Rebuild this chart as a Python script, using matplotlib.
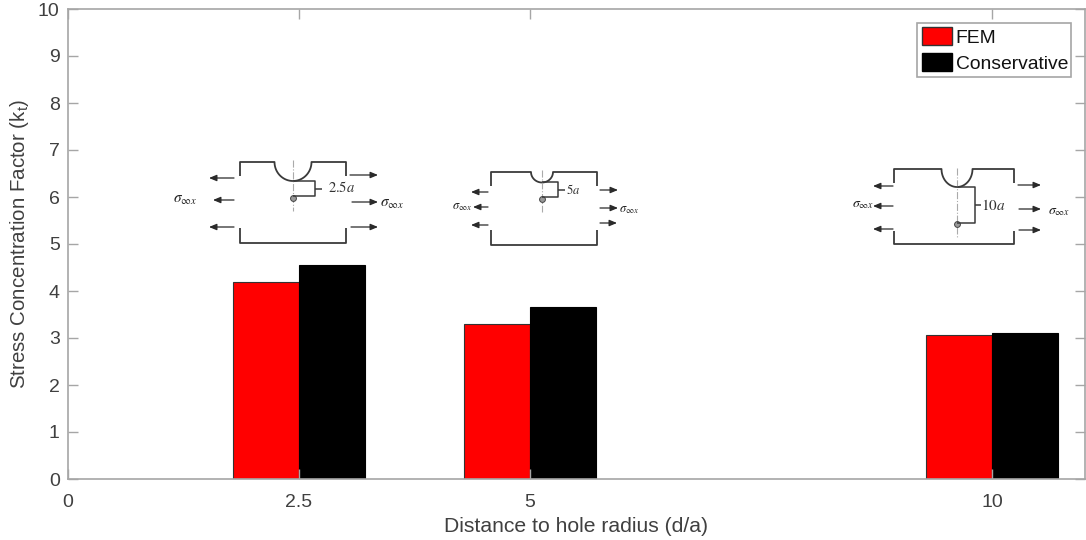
import numpy as np
import matplotlib
matplotlib.use("Agg")
import matplotlib.pyplot as plt
from matplotlib.patches import Patch, FancyArrowPatch, Rectangle
from matplotlib.transforms import Affine2D

plt.rcParams['font.family'] = ['Liberation Sans', 'DejaVu Sans']
plt.rcParams['mathtext.fontset'] = 'custom'
plt.rcParams['mathtext.rm'] = 'Liberation Sans'
plt.rcParams['mathtext.it'] = 'Liberation Sans:italic'

positions = [2.5, 5, 10]
tick_positions = [0, 2.5, 5, 10]
tick_labels = ['0', '2.5', '5', '10']
fem = [4.2, 3.3, 3.07]
conservative = [4.55, 3.65, 3.1]
bar_width = 0.714
GRAY = '#a6a6a6'
TXT = '#404040'

W, H = 1086, 540
fig = plt.figure(figsize=(W/100, H/100), dpi=100, facecolor='white')
ax = fig.add_axes([68/W, 1-479/H, (1084.5-68)/W, (479-9)/H])
pos = np.array(positions)
ax.bar(pos-bar_width/2, fem, bar_width, color='#ff0000', edgecolor='#333333', linewidth=0.8, label='FEM')
ax.bar(pos+bar_width/2, conservative, bar_width, color='#000000', edgecolor='#000000', linewidth=0.8, label='Conservative')
ax.set_xlim(0, 11)
ax.set_ylim(0, 10)
ax.set_xticks(tick_positions, tick_labels)
ax.set_yticks(range(0, 11))
ax.tick_params(direction='in', top=True, right=True, length=7.5, width=1, color=GRAY,
               labelcolor=TXT, labelsize=14)
ax.tick_params(axis='x', pad=10.5)
ax.tick_params(axis='y', pad=6)
for s in ax.spines.values():
    s.set_color(GRAY)
    s.set_linewidth(1.2)
ax.set_xlabel('Distance to hole radius (d/a)', fontsize=15.2, color=TXT, labelpad=4.5)
ax.set_ylabel(r'Stress Concentration Factor (k$_{\mathrm{t}}$)', fontsize=14.8, color=TXT, labelpad=5)

# overlay schematic drawn in image pixel space
px = Affine2D().scale(1/W, -1/H).translate(0, 1) + fig.transFigure

leg_box = Rectangle((917, 23), 154, 54, transform=px, facecolor='white', edgecolor=GRAY, lw=1.2, zorder=4)
ax.add_artist(leg_box)
leg = ax.legend(handles=[Patch(facecolor='#ff0000', edgecolor='#333333', label='FEM'),
                         Patch(facecolor='#000000', edgecolor='#000000', label='Conservative')],
                loc='upper right', bbox_to_anchor=(1073/W, 1-22.5/H), bbox_transform=fig.transFigure,
                fontsize=13.9, handlelength=1.55, handleheight=1.05, handletextpad=0.2,
                labelspacing=0.32, borderpad=0.25, borderaxespad=0, frameon=False,
                labelcolor='#111111')
leg.set_zorder(5)

INK = '#3a3a3a'

def ln(xs, ys, lw=1.2, c=INK, ls='-'):
    fig.add_artist(plt.Line2D(xs, ys, transform=px, color=c, lw=lw, ls=ls, solid_capstyle='butt'))

def arrow(x0, x1, y):
    fig.add_artist(FancyArrowPatch((x0, y), (x1, y), transform=px,
                   arrowstyle='-|>,head_length=0.6,head_width=0.25', mutation_scale=7.5,
                   color='#2a2a2a', lw=0.9, shrinkA=0, shrinkB=0))

def sig(x, y, fs):
    fig.text(x, y, r'$\sigma_{\infty x}$', transform=px, fontsize=fs, color='#222222',
             math_fontfamily='stix', ha='left', va='center')

def diagram(L, R, top, bot, lv, bv, cx, hw, depth, cl, dot, br, stem, lab, labx, laby, labfs,
            larr, rarr, s1, s2, sfs):
    t = np.linspace(np.pi, 0, 40)
    xs = np.r_[L, L, cx+hw*np.cos(t), R, R]
    ys = np.r_[lv, top, top+depth*np.sin(t), top, lv]
    ln(xs, ys, 1.3)
    ln([L, L, R, R], [bv, bot, bot, bv], 1.3)
    ln([cx, cx], cl, 0.8, '#aaaaaa', '-.')
    fig.add_artist(plt.Line2D([cx], [dot], transform=px, marker='o', ms=4.2, mfc='#9a9a9a', mec='#444444', mew=0.7))
    bx, y0, y1 = br
    ln([cx, bx, bx, cx], [y0, y0, y1, y1], 1.1)
    ln([bx, stem], [(y0+y1)/2]*2, 1.1)
    fig.text(labx, laby, lab, transform=px, fontsize=labfs, color='#333333',
             math_fontfamily='stix', ha='left', va='center')
    for a, b, y in larr + rarr:
        arrow(a, b, y)
    sig(*s1, sfs)
    sig(*s2, sfs)

diagram(240, 346, 162, 243, 176, 228, 293, 18.5, 19, (160, 211), 198, (315, 181, 196), 322,
        r'$2.5a$', 328, 188, 10.5,
        [(234, 209, 178), (234, 213, 200), (234, 209, 227)],
        [(350, 378, 175), (352, 378, 202), (351, 378, 227)],
        (173, 200), (380, 204), 11)
diagram(491, 597, 172, 245, 186, 230, 542, 11, 10.5, (170, 212), 199, (558, 182, 197), 565,
        r'$5a$', 566, 190, 9,
        [(488, 471, 192), (488, 473, 207), (488, 471, 225)],
        [(600, 618, 190), (600, 618, 208), (600, 617, 223)],
        (452, 207), (619, 210), 9)
diagram(894, 1014, 169, 244, 183, 231, 957, 15.5, 18, (168, 237), 224, (975, 187, 223), 981,
        r'$10a$', 981, 205, 11,
        [(893, 873, 186), (893, 873, 206), (893, 873, 229)],
        [(1018, 1041, 185), (1019, 1041, 209), (1019, 1041, 230)],
        (852, 204), (1048, 211), 10)

fig.savefig('out.png', dpi=100)
